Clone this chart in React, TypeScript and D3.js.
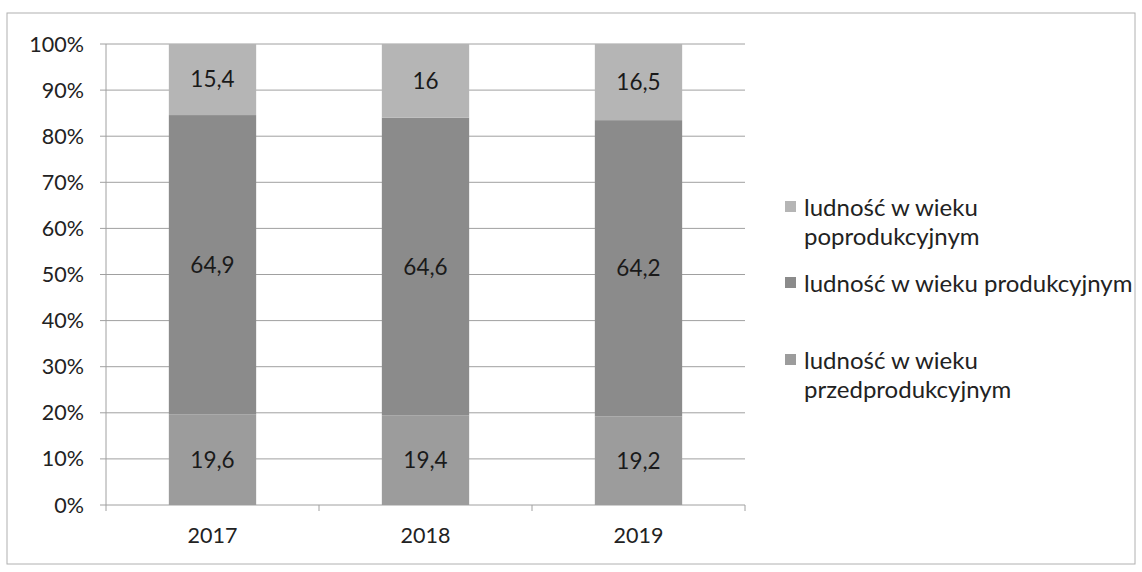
import React, { useRef, useEffect } from 'react';
import * as d3 from 'd3';

const years = ['2017', '2018', '2019'];
const przedprodukcyjny = [19.6, 19.4, 19.2];
const produkcyjny = [64.9, 64.6, 64.2];
const poprodukcyjny = [15.4, 16, 16.5];
const seriesNames = ['ludność w wieku poprodukcyjnym', 'ludność w wieku produkcyjnym', 'ludność w wieku przedprodukcyjnym'];
const yTicks = [0, 10, 20, 30, 40, 50, 60, 70, 80, 90, 100];

export default function App() {
  const svgRef = useRef<SVGSVGElement | null>(null);

  useEffect(() => {
    if (!svgRef.current) return;
    const svg = d3.select(svgRef.current);
    svg.selectAll('*').remove();

    const font = 'Lato, "Open Sans", sans-serif';
    const margin = { top: 44, left: 106, right: 745, bottom: 505 };

    // outer frame
    svg.append('rect')
      .attr('x', 7).attr('y', 13).attr('width', 1128).attr('height', 551)
      .attr('fill', '#fff').attr('stroke', '#b0b0b0').attr('stroke-width', 1);

    const x = d3.scaleBand().domain(years).range([margin.left, margin.right]).paddingInner(0.59).paddingOuter(0.295);
    const y = d3.scaleLinear().domain([0, 100]).range([margin.bottom, margin.top]);

    // gridlines
    svg.append('g').selectAll('line').data(yTicks).enter().append('line')
      .attr('x1', margin.left - 6).attr('x2', margin.right)
      .attr('y1', d => y(d)).attr('y2', d => y(d))
      .attr('stroke', '#a0a0a0').attr('stroke-width', 1);

    // y axis line
    svg.append('line')
      .attr('x1', margin.left).attr('x2', margin.left)
      .attr('y1', margin.top).attr('y2', margin.bottom)
      .attr('stroke', '#a0a0a0');

    // x-axis category ticks
    const bw = (margin.right - margin.left) / years.length;
    svg.append('g').selectAll('line').data(d3.range(years.length + 1)).enter().append('line')
      .attr('x1', d => margin.left + d * bw).attr('x2', d => margin.left + d * bw)
      .attr('y1', margin.bottom).attr('y2', margin.bottom + 6)
      .attr('stroke', '#a0a0a0');

    svg.append('g').selectAll('text').data(yTicks).enter().append('text')
      .attr('x', 84).attr('y', d => y(d)).attr('dy', '0.35em')
      .attr('text-anchor', 'end').attr('font-family', font).attr('font-size', 21.5).attr('fill', '#222')
      .text(d => `${d}%`);

    svg.append('g').selectAll('text').data(years).enter().append('text')
      .attr('x', d => (x(d) as number) + x.bandwidth() / 2).attr('y', 543)
      .attr('text-anchor', 'middle').attr('font-family', font).attr('font-size', 21.5).attr('fill', '#222')
      .text(d => d);

    const rows = years.map((yr, i) => ({ year: yr, przed: przedprodukcyjny[i], prod: produkcyjny[i], po: poprodukcyjny[i] }));
    const keys = ['przed', 'prod', 'po'];
    const colors: Record<string, string> = { przed: '#9c9c9c', prod: '#8b8b8b', po: '#b5b5b5' };
    const stacked = d3.stack<any>().keys(keys).offset(d3.stackOffsetExpand)(rows);

    stacked.forEach(layer => {
      const g = svg.append('g');
      g.selectAll('rect').data(layer).enter().append('rect')
        .attr('x', d => x(d.data.year) as number)
        .attr('width', x.bandwidth())
        .attr('y', d => y(d[1] * 100))
        .attr('height', d => y(d[0] * 100) - y(d[1] * 100))
        .attr('fill', colors[layer.key]);
      g.selectAll('text').data(layer).enter().append('text')
        .attr('x', d => (x(d.data.year) as number) + x.bandwidth() / 2)
        .attr('y', d => y((d[0] + d[1]) * 50)).attr('dy', '0.35em')
        .attr('text-anchor', 'middle').attr('font-family', font).attr('font-size', 22.5).attr('fill', '#1a1a1a')
        .text(d => String(d.data[layer.key]).replace('.', ','));
    });

    // legend (baselines)
    const legend = [
      { lines: ['ludność w wieku', 'poprodukcyjnym'], color: colors.po, y: 216 },
      { lines: ['ludność w wieku produkcyjnym'], color: colors.prod, y: 292 },
      { lines: ['ludność w wieku', 'przedprodukcyjnym'], color: colors.przed, y: 369 },
    ];
    legend.forEach((item, i) => {
      svg.append('rect').attr('x', 785).attr('y', item.y - 15).attr('width', 11).attr('height', 11).attr('fill', item.color);
      const t = svg.append('text').attr('font-family', font).attr('font-size', 24).attr('fill', '#222')
        .attr('aria-label', seriesNames[i]);
      item.lines.forEach((ln, j) => {
        t.append('tspan').attr('x', 804).attr('y', item.y + j * 29).text(ln);
      });
    });
  }, []);

  return <svg ref={svgRef} width={1142} height={572} style={{ position: 'absolute', left: 0, top: 0, background: '#fff' }} />;
}
